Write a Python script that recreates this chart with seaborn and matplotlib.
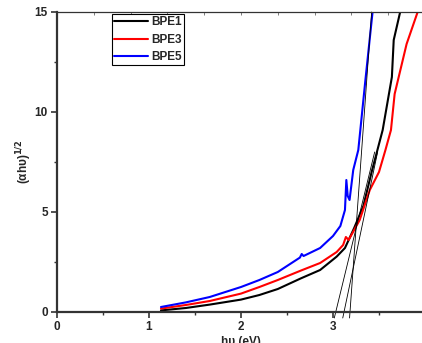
import matplotlib
matplotlib.use("Agg")
import matplotlib.pyplot as plt
import numpy as np
import pandas as pd
import seaborn as sns

# curves
bpe1_x = [1.13, 1.40, 1.66, 2.00, 2.20, 2.40, 2.65, 2.86, 3.04, 3.13, 3.23, 3.33, 3.42, 3.54, 3.64, 3.66, 3.73]
bpe1_y = [0.08, 0.20, 0.37, 0.62, 0.85, 1.15, 1.68, 2.10, 2.77, 3.20, 4.20, 5.30, 7.00, 9.10, 11.75, 13.60, 15.00]

bpe3_x = [1.13, 1.40, 1.66, 2.00, 2.20, 2.40, 2.65, 2.86, 3.04, 3.11, 3.14, 3.17, 3.29, 3.40, 3.50, 3.57, 3.63, 3.67, 3.80, 3.92]
bpe3_y = [0.17, 0.35, 0.55, 0.92, 1.25, 1.60, 2.07, 2.45, 3.00, 3.35, 3.75, 3.60, 4.60, 6.10, 7.00, 8.10, 9.10, 10.90, 13.40, 15.00]

bpe5_x = [1.13, 1.40, 1.66, 2.00, 2.20, 2.40, 2.64, 2.66, 2.68, 2.86, 3.00, 3.08, 3.13, 3.145, 3.16, 3.18, 3.22, 3.275, 3.35, 3.43]
bpe5_y = [0.25, 0.48, 0.75, 1.25, 1.60, 2.00, 2.72, 2.90, 2.80, 3.20, 3.80, 4.30, 5.10, 6.60, 5.80, 5.60, 7.10, 8.10, 11.50, 15.00]

samples = ["BPE1", "BPE3", "BPE5"]
colors = ["#000000", "#ff0000", "#0000ff"]

# tangent (Tauc) lines: start and end points
tangent_x = [[3.014, 3.453], [3.106, 3.485], [3.180, 3.420]]
tangent_y = [[-0.3, 8.0], [-0.3, 8.0], [-0.3, 15.0]]

sns.set_style("ticks")
plt.rcParams["font.family"] = ["Liberation Sans", "DejaVu Sans"]
plt.rcParams["font.weight"] = "bold"

df = pd.concat(
    [
        pd.DataFrame({"x": bpe1_x, "y": bpe1_y, "sample": "BPE1"}),
        pd.DataFrame({"x": bpe3_x, "y": bpe3_y, "sample": "BPE3"}),
        pd.DataFrame({"x": bpe5_x, "y": bpe5_y, "sample": "BPE5"}),
    ],
    ignore_index=True,
)

fig = plt.figure(figsize=(4.22, 3.43), dpi=100)
ax = fig.add_axes([57 / 422, 31 / 343, 368 / 422, 300 / 343])

sns.lineplot(
    data=df, x="x", y="y", hue="sample", hue_order=samples,
    palette=colors, sort=False, linewidth=1.5, ax=ax,
)

for tx, ty in zip(tangent_x, tangent_y):
    ax.plot(tx, ty, color="black", linewidth=0.6, clip_on=False)

ax.set_xlim(0, 4)
ax.set_ylim(0, 15)
ax.set_xticks([0, 1, 2, 3, 4])
ax.set_xticks([0.5, 1.5, 2.5, 3.5], minor=True)
ax.set_yticks([0, 5, 10, 15])
ax.set_yticks([2.5, 7.5, 12.5], minor=True)

for side in ["left", "bottom"]:
    ax.spines[side].set_linewidth(1.6)
    ax.spines[side].set_color("#333333")
ax.spines["top"].set_linewidth(0.9)
ax.spines["top"].set_color("#333333")
ax.spines["right"].set_visible(False)

ax.tick_params(axis="both", which="major", direction="out", length=4.5, width=1.2,
               labelsize=8.5, pad=2, color="#333333")
ax.tick_params(axis="both", which="minor", direction="out", length=2.5, width=1.0,
               color="#333333")
for lbl in ax.get_xticklabels() + ax.get_yticklabels():
    lbl.set_fontweight("bold")

top = ax.secondary_xaxis("top")
top.set_xticks(np.arange(0, 4.01, 0.4))
top.tick_params(direction="in", length=2, width=0.6, labeltop=False, color="#666666")
top.spines["top"].set_visible(False)

ax.set_xlabel("h\u03c5 (eV)", fontsize=8.5, fontweight="bold", labelpad=2)
ax.set_ylabel("(\u03b1h\u03c5)$^{\\mathsf{1/2}}$", fontsize=8.5, fontweight="bold", labelpad=0.5)

leg = ax.legend(
    loc="upper left", bbox_to_anchor=(0.149, 0.993), borderaxespad=0,
    frameon=True, fancybox=False, edgecolor="black", framealpha=1,
    fontsize=8.5, handlelength=2.9,
    handletextpad=0.25, borderpad=0.2, labelspacing=0.45, title=None,
)
for t in leg.get_texts():
    t.set_fontweight("bold")
leg.get_frame().set_linewidth(0.8)

fig.savefig("out.png", dpi=100)
